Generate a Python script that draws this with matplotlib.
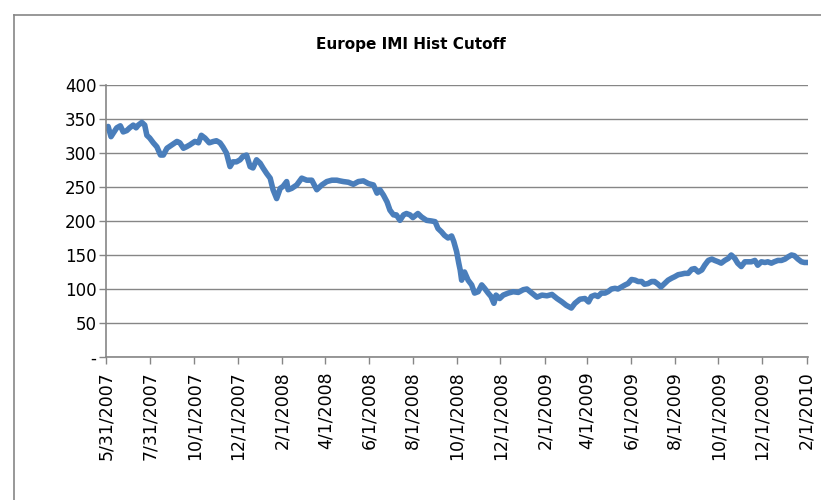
import pandas as pd
import matplotlib
matplotlib.use("Agg")
import matplotlib.pyplot as plt
from matplotlib.lines import Line2D

# values (roughly weekly)
dates = [
    "2007-05-31", "2007-06-03", "2007-06-07", "2007-06-10", "2007-06-15", "2007-06-20",
    "2007-06-24", "2007-06-29", "2007-07-03", "2007-07-08", "2007-07-12", "2007-07-15",
    "2007-07-20", "2007-07-24", "2007-07-27", "2007-07-31", "2007-08-05", "2007-08-10",
    "2007-08-15", "2007-08-19", "2007-08-24", "2007-08-31", "2007-09-07", "2007-09-11",
    "2007-09-16", "2007-09-20", "2007-09-25", "2007-10-02", "2007-10-07", "2007-10-11",
    "2007-10-16", "2007-10-22", "2007-10-28", "2007-11-01", "2007-11-06", "2007-11-10",
    "2007-11-15", "2007-11-20", "2007-11-24", "2007-11-29", "2007-12-04", "2007-12-08",
    "2007-12-13", "2007-12-18", "2007-12-22", "2007-12-27", "2008-01-01", "2008-01-05",
    "2008-01-10", "2008-01-15", "2008-01-19", "2008-01-24", "2008-01-29", "2008-02-02",
    "2008-02-07", "2008-02-09", "2008-02-14", "2008-02-21", "2008-02-28", "2008-03-06",
    "2008-03-13", "2008-03-20", "2008-03-27", "2008-04-03", "2008-04-10", "2008-04-17",
    "2008-04-21", "2008-04-26", "2008-05-03", "2008-05-10", "2008-05-17", "2008-05-24",
    "2008-05-31", "2008-06-07", "2008-06-12", "2008-06-16", "2008-06-21", "2008-06-26",
    "2008-06-30", "2008-07-05", "2008-07-09", "2008-07-14", "2008-07-19", "2008-07-23",
    "2008-07-28", "2008-08-01", "2008-08-08", "2008-08-13", "2008-08-20", "2008-08-27",
    "2008-09-01", "2008-09-05", "2008-09-10", "2008-09-14", "2008-09-19", "2008-09-24",
    "2008-09-27", "2008-10-01", "2008-10-04", "2008-10-06", "2008-10-08", "2008-10-12",
    "2008-10-17", "2008-10-22", "2008-10-26", "2008-10-31", "2008-11-05", "2008-11-09",
    "2008-11-14", "2008-11-18", "2008-11-22", "2008-11-25", "2008-11-30", "2008-12-05",
    "2008-12-12", "2008-12-19", "2008-12-26", "2009-01-02", "2009-01-07", "2009-01-14",
    "2009-01-21", "2009-01-28", "2009-02-04", "2009-02-11", "2009-02-18", "2009-02-25",
    "2009-03-03", "2009-03-10", "2009-03-15", "2009-03-22", "2009-03-29", "2009-04-03",
    "2009-04-07", "2009-04-12", "2009-04-16", "2009-04-21", "2009-04-26", "2009-04-30",
    "2009-05-05", "2009-05-10", "2009-05-14", "2009-05-19", "2009-05-24", "2009-05-28",
    "2009-06-02", "2009-06-07", "2009-06-11", "2009-06-16", "2009-06-20", "2009-06-25",
    "2009-06-30", "2009-07-04", "2009-07-09", "2009-07-13", "2009-07-18", "2009-07-23",
    "2009-07-28", "2009-08-01", "2009-08-06", "2009-08-11", "2009-08-15", "2009-08-20",
    "2009-08-25", "2009-08-29", "2009-09-03", "2009-09-08", "2009-09-12", "2009-09-17",
    "2009-09-22", "2009-09-26", "2009-10-01", "2009-10-05", "2009-10-10", "2009-10-15",
    "2009-10-19", "2009-10-24", "2009-10-28", "2009-11-02", "2009-11-07", "2009-11-11",
    "2009-11-16", "2009-11-21", "2009-11-25", "2009-11-30", "2009-12-05", "2009-12-09",
    "2009-12-14", "2009-12-18", "2009-12-23", "2009-12-28", "2010-01-02", "2010-01-06",
    "2010-01-11", "2010-01-15", "2010-01-20", "2010-01-25", "2010-01-29", "2010-02-03",
]
cutoff = [
    336, 339, 324, 329, 337, 340,
    331, 333, 337, 341, 337, 341,
    345, 341, 326, 322, 315, 309,
    297, 297, 307, 312, 317, 315,
    307, 309, 312, 317, 315, 326,
    322, 315, 317, 318, 315, 309,
    300, 280, 287, 287, 290, 295,
    297, 280, 278, 290, 285, 278,
    270, 263, 246, 233, 248, 251,
    258, 246, 248, 253, 263, 260,
    260, 246, 253, 258, 260, 260,
    259, 258, 257, 254, 258, 259,
    255, 253, 241, 246, 238, 228,
    216, 209, 209, 201, 209, 211,
    209, 205, 211, 206, 201, 200,
    199, 189, 184, 179, 175, 178,
    170, 155, 138, 128, 113, 125,
    113, 106, 94, 96, 106, 101,
    94, 89, 79, 91, 86, 91,
    94, 96, 95, 99, 100, 94,
    88, 91, 90, 92, 86, 81,
    76, 72, 79, 85, 86, 81,
    89, 91, 89, 94, 94, 96,
    100, 101, 100, 103, 106, 108,
    114, 113, 111, 111, 107, 108,
    111, 111, 107, 103, 108, 113,
    116, 118, 121, 122, 123, 123,
    129, 130, 125, 128, 135, 142,
    144, 142, 140, 138, 142, 145,
    150, 145, 138, 133, 140, 140,
    140, 142, 135, 140, 139, 140,
    138, 140, 142, 142, 144, 147,
    150, 149, 144, 140, 139, 139,
]

tick_dates = ["2007-05-31", "2007-07-31", "2007-10-01", "2007-12-01", "2008-02-01",
              "2008-04-01", "2008-06-01", "2008-08-01", "2008-10-01", "2008-12-01",
              "2009-02-01", "2009-04-01", "2009-06-01", "2009-08-01", "2009-10-01",
              "2009-12-01", "2010-02-01"]
tick_labels = ["5/31/2007", "7/31/2007", "10/1/2007", "12/1/2007", "2/1/2008",
               "4/1/2008", "6/1/2008", "8/1/2008", "10/1/2008", "12/1/2008",
               "2/1/2009", "4/1/2009", "6/1/2009", "8/1/2009", "10/1/2009",
               "12/1/2009", "2/1/2010"]
y_ticks = [0, 50, 100, 150, 200, 250, 300, 350, 400]
y_labels = ["-", "50", "100", "150", "200", "250", "300", "350", "400"]

grey = "#868686"

fig = plt.figure(figsize=(8.21, 5), dpi=100)
ax = fig.add_axes([0.1291, 0.286, 0.855, 0.544])

x = pd.to_datetime(dates)
ax.plot(x, cutoff, color="#4A7EBB", lw=4, solid_joinstyle="round", solid_capstyle="round")

ax.set_xlim(pd.Timestamp("2007-05-31"), pd.Timestamp("2010-02-03"))
ax.set_ylim(0, 400)
ax.set_yticks(y_ticks)
ax.set_yticklabels(y_labels)
ax.set_xticks(pd.to_datetime(tick_dates))
ax.set_xticklabels(tick_labels, rotation=90)

ax.grid(axis="y", color=grey, lw=1)
ax.set_axisbelow(True)
for s in ["top", "right"]:
    ax.spines[s].set_visible(False)
for s in ["left", "bottom"]:
    ax.spines[s].set_color(grey)
    ax.spines[s].set_linewidth(1.2)
ax.tick_params(colors=grey, labelcolor="black", length=5, width=1)
ax.tick_params(axis="y", labelsize=12, pad=2)
ax.tick_params(axis="x", labelsize=12.5, pad=5)

fig.text(0.5, 0.91, "Europe IMI Hist Cutoff", ha="center", va="center",
         fontsize=11, fontweight="bold")

# outer chart border
fig.add_artist(Line2D([0.017, 0.017], [0, 0.97], color=grey, lw=1.2))
fig.add_artist(Line2D([0.017, 1], [0.97, 0.97], color=grey, lw=1.2))

fig.savefig("out.png", dpi=100)
